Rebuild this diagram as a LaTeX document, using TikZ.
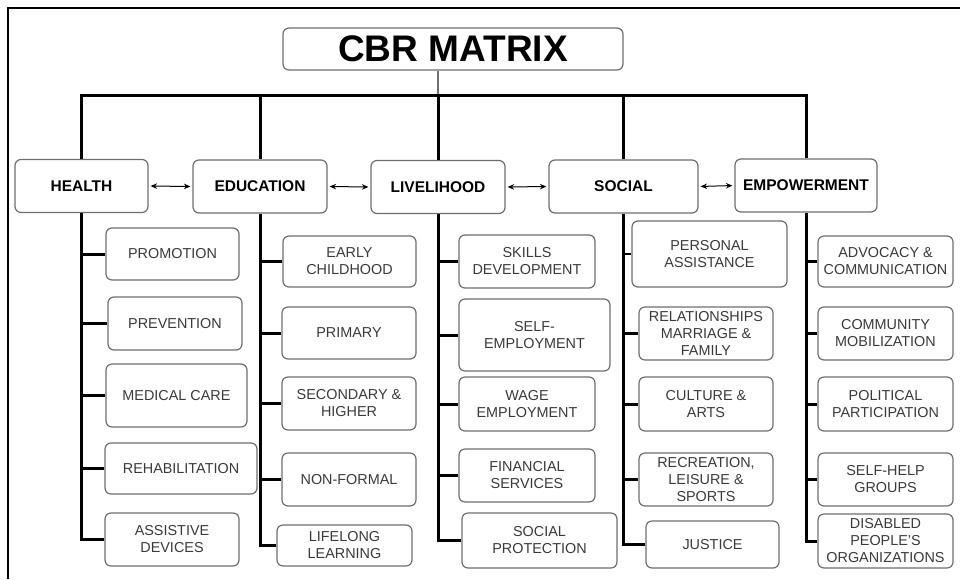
\documentclass[tikz,border=0pt]{standalone}
\usepackage{fontspec}
\setmainfont{Liberation Sans}
\usetikzlibrary{arrows.meta}
\definecolor{boxgray}{HTML}{6E6E6E}
\definecolor{txtgray}{HTML}{3A3A3A}
\tikzset{
  mainbox/.style={draw=boxgray, line width=1.2pt, rounded corners=6pt, fill=white,
    minimum height=53pt, inner sep=0pt, text=black, font=\fontsize{15.5}{18}\selectfont\bfseries},
  subbox/.style={draw=boxgray, line width=1.2pt, rounded corners=6pt, fill=white,
    align=center, inner sep=0pt, text=txtgray, font=\fontsize{14.4}{17}\selectfont},
  trunk/.style={line width=3pt},
  link/.style={line width=1pt, {Stealth[length=6.5pt,width=5.5pt]}-{Stealth[length=6.5pt,width=5.5pt]}, shorten <=2pt, shorten >=2pt},
}
\begin{document}
\begin{tikzpicture}[x=1pt,y=-1pt]
\useasboundingbox (0,0) rectangle (960,579);
\draw [line width=1.5pt] (8,579) -- (8,8) -- (960,8);
% title and the five components
\node [draw=boxgray, line width=1.2pt, rounded corners=6pt, minimum width=340pt, minimum height=42pt, inner sep=0pt,
  font=\fontsize{37}{40}\selectfont\bfseries] (title) at (453,49) {CBR MATRIX};
\coordinate (bus) at (0,95);
\node [mainbox, minimum width=133pt] (health) at (81.5,186) {HEALTH};
\node [mainbox, minimum width=134pt] (edu) at (260,186.5) {EDUCATION};
\node [mainbox, minimum width=134pt] (live) at (438,187) {LIVELIHOOD};
\node [mainbox, minimum width=149pt] (social) at (623.5,186.5) {SOCIAL};
\node [mainbox, minimum width=142pt] (emp) at (806,185.5) {EMPOWERMENT};
\draw [line width=1.5pt, boxgray] (title.south -| live.north) -- (live.north |- bus);
\draw [trunk] (health.north) -- (health.north |- bus) -- (emp.north |- bus) -- (emp.north);
\draw [trunk] (edu.north) -- (edu.north |- bus);
\draw [trunk] (live.north) -- (live.north |- bus);
\draw [trunk] (social.north) -- (social.north |- bus);
\draw [link] (health.east) -- (edu.west);
\draw [link] (edu.east) -- (live.west);
\draw [link] (live.east) -- (social.west);
\draw [link] (social.east) -- (emp.west);
% health
\node [subbox, minimum width=133pt, minimum height=52pt] (prom) at (172.5,254) {PROMOTION};
\node [subbox, minimum width=134pt, minimum height=53pt] (prev) at (175,323.5) {PREVENTION};
\node [subbox, minimum width=141pt, minimum height=63pt] (med) at (176.5,395.5) {MEDICAL CARE};
\node [subbox, minimum width=152pt, minimum height=51pt] (rehab) at (181,468.5) {REHABILITATION};
\node [subbox, minimum width=134pt, minimum height=53pt] (assist) at (172,539.5) {ASSISTIVE\\DEVICES};
\draw [trunk] (health.south) |- (assist.west);
\foreach \n in {prom,prev,med,rehab}
  \draw [trunk] (health.south |- \n.west) -- (\n.west);
% education
\node [subbox, minimum width=133pt, minimum height=51pt] (early) at (349.5,261.5) {EARLY\\CHILDHOOD};
\node [subbox, minimum width=134pt, minimum height=52pt] (prim) at (349,333) {PRIMARY};
\node [subbox, minimum width=134pt, minimum height=53pt] (sec) at (349,403.5) {SECONDARY \&\\HIGHER};
\node [subbox, minimum width=134pt, minimum height=53pt] (nonf) at (349,479.5) {NON-FORMAL};
\node [subbox, minimum width=135pt, minimum height=41pt] (life) at (344.5,545.5) {LIFELONG\\LEARNING};
\draw [trunk] (edu.south) |- (life.west);
\foreach \n in {early,prim,sec,nonf}
  \draw [trunk] (edu.south |- \n.west) -- (\n.west);
% livelihood
\node [subbox, minimum width=136pt, minimum height=53pt] (skills) at (527,261.5) {SKILLS\\DEVELOPMENT};
\node [subbox, minimum width=151pt, minimum height=72pt] (selfemp) at (534.5,335) {SELF-\\EMPLOYMENT};
\node [subbox, minimum width=136pt, minimum height=54pt] (wage) at (527,404) {WAGE\\EMPLOYMENT};
\node [subbox, minimum width=136pt, minimum height=53pt] (fin) at (527,475.5) {FINANCIAL\\SERVICES};
\node [subbox, minimum width=155pt, minimum height=55pt] (socprot) at (539.5,540.5) {SOCIAL\\PROTECTION};
\draw [trunk] (live.south) |- (socprot.west);
\foreach \n in {skills,selfemp,wage,fin}
  \draw [trunk] (live.south |- \n.west) -- (\n.west);
% social
\node [subbox, minimum width=155pt, minimum height=66pt] (pers) at (709.5,254) {PERSONAL\\ASSISTANCE};
\node [subbox, minimum width=134pt, minimum height=53pt] (rel) at (706,333.5) {RELATIONSHIPS\\MARRIAGE \&\\FAMILY};
\node [subbox, minimum width=134pt, minimum height=54pt] (cult) at (706,404) {CULTURE \&\\ARTS};
\node [subbox, minimum width=134pt, minimum height=53pt] (recr) at (706,479.5) {RECREATION,\\LEISURE \&\\SPORTS};
\node [subbox, minimum width=133pt, minimum height=47pt] (just) at (712.5,544.5) {JUSTICE};
\draw [trunk] (social.south) |- (just.west);
\draw [line width=1.5pt] (social.south |- pers.west) -- (pers.west);
\foreach \n in {rel,cult,recr}
  \draw [trunk] (social.south |- \n.west) -- (\n.west);
% empowerment
\node [subbox, minimum width=135pt, minimum height=51pt] (adv) at (885.5,261.5) {ADVOCACY \&\\COMMUNICATION};
\node [subbox, minimum width=135pt, minimum height=53pt] (comm) at (885.5,333.5) {COMMUNITY\\MOBILIZATION};
\node [subbox, minimum width=135pt, minimum height=54pt] (pol) at (885.5,404) {POLITICAL\\PARTICIPATION};
\node [subbox, minimum width=135pt, minimum height=53pt] (shg) at (885.5,479.5) {SELF-HELP\\GROUPS};
\node [subbox, minimum width=135pt, minimum height=54pt] (dpo) at (885.5,541) {DISABLED\\PEOPLE'S\\ORGANIZATIONS};
\draw [trunk] (emp.south) |- (dpo.west);
\foreach \n in {adv,comm,pol,shg}
  \draw [trunk] (emp.south |- \n.west) -- (\n.west);
\end{tikzpicture}
\end{document}
